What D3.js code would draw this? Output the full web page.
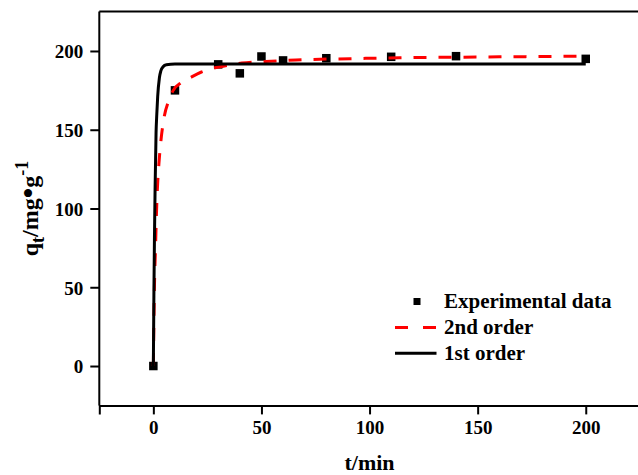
<!DOCTYPE html>
<html><head><meta charset="utf-8">
<script src="https://cdn.jsdelivr.net/npm/d3@7"></script>
<style>
body{margin:0;background:#fff;}
svg text{font-family:"Liberation Serif","Times New Roman",serif;font-weight:bold;fill:#000;}
</style></head>
<body>
<svg id="c" width="638" height="475"></svg>
<script>
// Experimental data
const expT = [0, 10, 30, 40, 50, 60, 80, 110, 140, 200];
const expQ = [0, 175, 191.5, 185.8, 196.5, 194, 195.4, 196.3, 196.7, 195];
// 2nd order fitted curve
const secT = [0, 0.5, 1.0, 1.4, 1.85, 2.6, 3.5, 5, 7, 9.2, 13, 17, 22, 27, 35, 41, 52, 66, 91, 114, 153, 200];
const secQ = [0, 50, 75, 95, 112, 129, 143, 158, 168, 175, 180, 183, 186.5, 188.8, 191, 192.3, 193.3, 194.3, 195.1, 195.7, 196.2, 196.7];
// 1st order fitted curve
const firT = [0, 0.25, 0.5, 0.8, 1.25, 1.6, 2, 2.8, 3.5, 4.5, 6, 10, 200];
const firQ = [0, 45, 80, 112, 148, 160, 171, 183, 187.5, 190, 191.3, 191.7, 191.7];
const xTicks = [0, 50, 100, 150, 200];
const yTicks = [0, 50, 100, 150, 200];
const legendLabels = ["Experimental data", "2nd order", "1st order"];

const svg = d3.select("#c");
const x = d3.scaleLinear().domain([-25, 225]).range([99.3, 639.8]);
const y = d3.scaleLinear().domain([-25, 225]).range([405.4, 11.6]);

// frame
svg.append("line").attr("x1", x(-25)).attr("x2", 640).attr("y1", y(225)).attr("y2", y(225))
  .attr("stroke", "#000").attr("stroke-width", 2);

const xAxis = svg.append("g").attr("transform", `translate(0,${y(-25)})`)
  .call(d3.axisBottom(x).tickValues(xTicks).tickSize(9).tickPadding(6).tickFormat(d3.format("d")));
const yAxis = svg.append("g").attr("transform", `translate(${x(-25)},0)`)
  .call(d3.axisLeft(y).tickValues(yTicks).tickSize(9).tickPadding(7).tickFormat(d3.format("d")));
[xAxis, yAxis].forEach(g => {
  g.select(".domain").attr("stroke-width", 2);
  g.selectAll(".tick line").attr("stroke-width", 2);
  g.selectAll(".tick text").style("font-size", "19px").attr("font-family", null).style("font-family", '"Liberation Serif",serif').style("font-weight", "bold");
});
yAxis.selectAll(".tick text").attr("dy", "0.36em");
yAxis.select(".domain").attr("d", `M0,${y(225)}V${y(-25)}`);

// experimental squares
const sq = 8.5;
svg.append("g").selectAll("rect").data(expT.map((t, i) => [t, expQ[i]])).join("rect")
  .attr("x", d => x(d[0]) - sq / 2).attr("y", d => y(d[1]) - sq / 2)
  .attr("width", sq).attr("height", sq).attr("fill", "#000");

const line = d3.line().x(d => x(d[0])).y(d => y(d[1])).curve(d3.curveMonotoneX);
svg.append("path").datum(secT.map((t, i) => [t, secQ[i]])).attr("d", line)
  .attr("fill", "none").attr("stroke", "#ff0000").attr("stroke-width", 3).attr("stroke-dasharray", "13,12");
svg.append("path").datum(firT.map((t, i) => [t, firQ[i]])).attr("d", line)
  .attr("fill", "none").attr("stroke", "#000").attr("stroke-width", 3);

// axis titles
svg.append("text").attr("x", x(100)).attr("y", 470).attr("text-anchor", "middle")
  .style("font-size", "22px").text("t/min");
const yt = svg.append("text").attr("transform", `translate(38,${y(100)}) rotate(-90)`)
  .attr("text-anchor", "middle").style("font-size", "24px");
yt.append("tspan").text("q");
yt.append("tspan").attr("dy", 6).style("font-size", "18px").text("t");
yt.append("tspan").attr("dy", -6).text("/mg");
yt.append("tspan").style("font-size", "30px").text("•");
yt.append("tspan").text("g");
yt.append("tspan").attr("dy", -10).style("font-size", "18px").text("-1");

// legend
const lg = svg.append("g");
const rowsY = [301.5, 327.5, 353.3];
lg.append("rect").attr("x", 417 - 3.5).attr("y", rowsY[0] - 3.5).attr("width", 7).attr("height", 7).attr("fill", "#000");
lg.append("line").attr("x1", 395).attr("x2", 436.5).attr("y1", rowsY[1]).attr("y2", rowsY[1])
  .attr("stroke", "#ff0000").attr("stroke-width", 3).attr("stroke-dasharray", "13,15");
lg.append("line").attr("x1", 395).attr("x2", 436.5).attr("y1", rowsY[2]).attr("y2", rowsY[2])
  .attr("stroke", "#000").attr("stroke-width", 3);
lg.selectAll("text.l").data(legendLabels).join("text").attr("class", "l")
  .attr("x", 444).attr("y", (d, i) => rowsY[i] + 6.5).style("font-size", "21px").text(d => d);
</script>
</body></html>
